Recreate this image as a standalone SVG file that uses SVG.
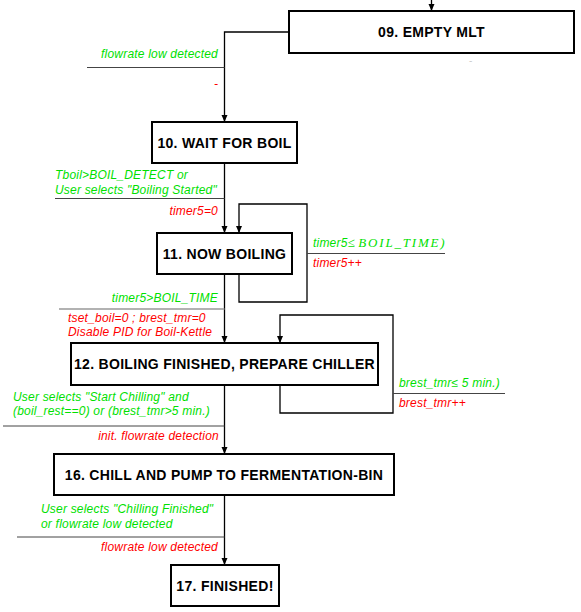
<svg xmlns="http://www.w3.org/2000/svg" width="581" height="612" viewBox="0 0 581 612">
<defs>
<marker id="arr" markerWidth="8" markerHeight="8" refX="7" refY="4" orient="auto" markerUnits="userSpaceOnUse">
<path d="M0,1 L7,4 L0,7 Z" fill="#000"/>
</marker>
<style>
.box{fill:#fff;stroke:#000;stroke-width:2}
.nt{font-family:"Liberation Sans",Arial,sans-serif;font-weight:bold;font-size:14px;fill:#000;text-anchor:middle;letter-spacing:0.3px}
.con{fill:none;stroke:#000;stroke-width:1.3}
.ll{stroke:#444;stroke-width:1}
.g{font-family:"Liberation Sans",Arial,sans-serif;font-style:italic;font-size:12px;fill:#00e000;letter-spacing:0.2px}
.r{font-family:"Liberation Sans",Arial,sans-serif;font-style:italic;font-size:12px;fill:#ff0000;letter-spacing:0.2px}
.e{text-anchor:end}
.m{font-family:"Liberation Serif","Times New Roman",serif;font-size:13px}
</style>
</defs>
<g id="connectors">
<path class="con" d="M431.5,0 V11" marker-end="url(#arr)"/>
<path class="con" d="M289,32 H224.5 V122" marker-end="url(#arr)"/>
<path class="con" d="M224.5,163 V233" marker-end="url(#arr)"/>
<path class="con" d="M239,274 V302 H307 V204 H239 V233" marker-end="url(#arr)"/>
<path class="con" d="M224.5,274 V343" marker-end="url(#arr)"/>
<path class="con" d="M280,385 V413 H393 V315 H280 V343" marker-end="url(#arr)"/>
<path class="con" d="M224.5,385 V454" marker-end="url(#arr)"/>
<path class="con" d="M224.5,495 V565" marker-end="url(#arr)"/>
</g>
<g id="labels">
<line class="ll" x1="87" y1="67.5" x2="224.5" y2="67.5"/>
<text class="g e" x="218" y="58">flowrate low detected</text>
<text class="r" x="214" y="88">-</text>
<text x="469" y="64" style="font-family:'Liberation Sans',sans-serif;font-size:10px;fill:#ccc">-</text>

<line class="ll" x1="55" y1="198.5" x2="224.5" y2="198.5"/>
<text class="g" x="55" y="179">Tboil&gt;BOIL_DETECT or</text>
<text class="g" x="55" y="194">User selects "Boiling Started"</text>
<text class="r e" x="218" y="215">timer5=0</text>

<line class="ll" x1="307" y1="253.5" x2="445" y2="253.5"/>
<text class="g" x="313" y="247">timer5<tspan class="m">≤ </tspan><tspan class="m" font-style="italic" letter-spacing="1.8">BOIL_TIME)</tspan></text>
<text class="r" x="313" y="267">timer5++</text>

<line x1="59" y1="309" x2="224.5" y2="309" stroke="#999" stroke-width="1.5"/>
<text class="g e" x="218" y="302">timer5&gt;BOIL_TIME</text>
<text class="r" x="68" y="322">tset_boil=0 ; brest_tmr=0</text>
<text class="r" x="68" y="336">Disable PID for Boil-Kettle</text>

<line class="ll" x1="393" y1="393.5" x2="505" y2="393.5"/>
<text class="g" x="399" y="387">brest_tmr≤ 5 min.)</text>
<text class="r" x="399" y="407">brest_tmr++</text>

<line class="ll" x1="3" y1="426" x2="224.5" y2="426"/>
<text class="g" x="13" y="401">User selects "Start Chilling" and</text>
<text class="g" x="13" y="415">(boil_rest==0) or (brest_tmr&gt;5 min.)</text>
<text class="r e" x="219" y="440">init. flowrate detection</text>

<line class="ll" x1="17" y1="537" x2="224.5" y2="537"/>
<text class="g" x="41" y="513">User selects "Chilling Finished"</text>
<text class="g" x="41" y="528">or flowrate low detected</text>
<text class="r e" x="218" y="551">flowrate low detected</text>
</g>
<g id="n09"><rect class="box" x="289" y="11" width="285" height="42"/><text class="nt" x="431.5" y="37">09.  EMPTY MLT</text></g>
<g id="n10"><rect class="box" x="152" y="122" width="145" height="41"/><text class="nt" x="224.5" y="147.5">10. WAIT FOR BOIL</text></g>
<g id="n11"><rect class="box" x="157" y="233" width="135" height="41"/><text class="nt" x="224.5" y="258.5">11. NOW BOILING</text></g>
<g id="n12"><rect class="box" x="71" y="343" width="307" height="42"/><text class="nt" x="224.5" y="369">12. BOILING FINISHED, PREPARE CHILLER</text></g>
<g id="n16"><rect class="box" x="54" y="454" width="340" height="41"/><text class="nt" x="224" y="479.5">16. CHILL AND PUMP TO FERMENTATION-BIN</text></g>
<g id="n17"><rect class="box" x="171" y="565" width="108" height="41"/><text class="nt" x="225" y="590.5">17. FINISHED!</text></g>
</svg>
